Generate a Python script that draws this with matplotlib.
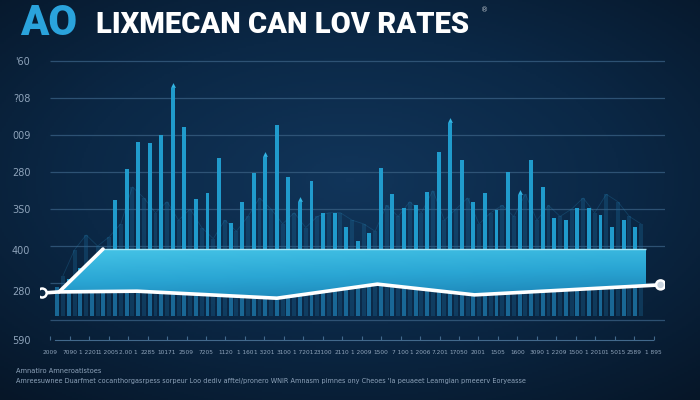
#! /usr/bin/env python
"""
Dark dashboard style rate chart: tall cyan bars, a flat band and a white trend line
"""

import numpy as np
import matplotlib.pyplot as plt
from matplotlib.colors import LinearSegmentedColormap
from matplotlib.patches import Polygon

# ---- data -------------------------------------------------------------
title_accent = 'AO'
title_main = 'LIXMECAN CAN LOV RATES'
footer_head = 'Amnatiro Amneroatistoes'
footer_body = ('Amreesuwnee Duarfmet cocanthorgasrpess sorpeur Loo dediv '
               'afftel/pronero WNIR Amnasm pimnes ony Cheoes \'Ia peuaeet '
               'Leamgian pmeeerv Eoryeasse')

# front bars, one per period (0..50)
main_v = [0.9, 1.1, 1.4, 1.2, 1.6,
          3.24, 4.08, 4.81, 4.78, 5.00, 6.27, 5.22, 3.27, 3.43, 4.38,
          2.62, 3.19, 3.97, 4.41, 5.27, 3.86, 3.19, 3.76, 2.89, 2.89,
          2.51, 2.14, 2.35, 4.11, 3.41, 3.03, 3.11, 3.46, 4.54, 5.32,
          4.32, 3.19, 3.43, 2.97, 4.00, 3.38, 4.32, 3.59, 2.76, 2.70,
          3.03, 3.03, 2.84, 2.51, 2.70, 2.51]
# faint bars behind them
back_v = [1.2, 1.9, 2.3, 2.0, 2.25, 2.6, 3.6, 3.3, 2.9, 3.2,
          2.7, 3.0, 2.5, 2.2, 2.7, 2.4, 2.8, 3.3, 3.0, 2.6,
          2.9, 2.5, 2.8, 2.9, 2.9, 2.7, 2.6, 2.4, 3.1, 2.8,
          3.2, 2.9, 3.5, 2.7, 3.0, 3.3, 2.6, 2.9, 3.1, 2.8,
          3.4, 2.7, 3.1, 2.8, 3.0, 3.3, 2.9, 3.4, 3.2, 2.8, 2.6]
arrow_periods = [10, 18, 21, 34, 40]

# white trend line
line_x = [-1.3, 0.16, 6.9, 19.0, 27.7, 36.1, 52.2]
line_v = [0.73, 0.76, 0.78, 0.59, 0.97, 0.68, 0.95]

# flat band
band_start, band_end = 3.96, 50.94
band_top = 1.92

ytick_v = [7, 6, 5, 4, 3, 1.9, 0.78, -0.54]
ytick_labels = ["'60", '?08', '009', '280', '3S0', '400', '280', '590']

xtick_labels = ['2009', '7090', '1 2201', '1 2005', '2.00 1', '2285', '10171',
                '2509', '7205', '1120', '1 160', '1 3201', '3100', '1 7201',
                '23100', '2110', '1 2009', '1500', '7 100', '1 2006', '7.201',
                '17050', '2001', '1505', '1600', '3090', '1 2209', '1500',
                '1 2010', '1 5015', '2589', '1 895']

# ---- figure -----------------------------------------------------------
fig = plt.figure(figsize=(7, 4), dpi=100)

# background radial gradient
bg = fig.add_axes([0, 0, 1, 1], zorder=-10)
yy, xx = np.mgrid[0:1:200j, 0:1:350j]
r = np.sqrt(((xx - 0.5) / 0.8) ** 2 + ((yy - 0.45) / 0.75) ** 2)
bg_cmap = LinearSegmentedColormap.from_list('bg', ['#11355a', '#0b2846', '#061628'])
bg.imshow(np.clip(r, 0, 1), cmap=bg_cmap, aspect='auto', extent=[0, 1, 0, 1],
          origin='upper')
bg.set_axis_off()

ax = fig.add_axes([40 / 700, 60 / 400, 625 / 700, 290 / 400])
ax.set_facecolor('none')
ax.set_xlim(-1.49, 52.58)
ax.set_ylim(-0.54, 7.3)

# grid lines
for v in range(0, 8):
    ax.hlines(v, -0.62, 52.6, color='#375d80', lw=0.9, alpha=0.8, zorder=1)

periods = np.arange(len(main_v))
main_arr = np.array(main_v)

# faint back bars and a thin line over their tops
ax.bar(periods + 0.5, np.array(back_v) - 0.1, bottom=0.1, width=0.34,
       color='#1b6594', alpha=0.35, zorder=2)
ax.plot(periods + 0.5, back_v, color='#2a8cc0', lw=0.6, alpha=0.25, zorder=2)

# front bars: muted lower part, bright upper part
split = 1.0
ax.bar(periods, np.minimum(main_arr, split) - 0.1, bottom=0.1, width=0.34,
       color='#1b6f9f', alpha=0.9, zorder=3)
ax.bar(periods, np.clip(main_arr - split, 0, None), bottom=split, width=0.34,
       color='#22a2d4', alpha=0.95, zorder=3)
ax.scatter(periods[arrow_periods], main_arr[arrow_periods] + 0.08,
           marker='^', s=12, color='#33b4e2', zorder=3, linewidths=0)

# band with slanted left edge, bottom following the white line
band_bottom = np.interp(band_end, line_x, line_v)
inner = [(x, v) for x, v in zip(line_x, line_v) if line_x[1] < x < band_end]
verts = ([(line_x[1], line_v[1]), (band_start, band_top), (band_end, band_top),
          (band_end, band_bottom)] + inner[::-1])
poly = Polygon(verts, closed=True, facecolor='none', edgecolor='none')
ax.add_patch(poly)
band_cmap = LinearSegmentedColormap.from_list('band', ['#1a7fb2', '#2aa6d4', '#44c3e6'])
grad = np.linspace(0, 1, 100).reshape(-1, 1) * np.ones((1, 10))
grad = grad * 0.8 + np.linspace(0.2, 0, 10).reshape(1, -1)
im = ax.imshow(grad, cmap=band_cmap, origin='lower', aspect='auto',
               extent=[line_x[1], band_end, 0.55, band_top], zorder=4,
               vmin=0, vmax=1)
im.set_clip_path(poly)
ax.hlines(band_top, band_start, band_end, color='#a8e6f7', lw=1.0, zorder=5)

# white trend line
ax.plot([line_x[1], band_start], [line_v[1], band_top], color='white', lw=2.6,
        solid_capstyle='round', zorder=6)
ax.plot(line_x, line_v, color='white', lw=2.6, solid_joinstyle='round', zorder=6)
ax.scatter([line_x[0], line_x[-1]], [line_v[0], line_v[-1]], s=42,
           facecolor=['#0d2a45', '#c9d4df'], edgecolor='white', linewidths=1.8,
           zorder=7)

# axes styling
for side in ['top', 'right', 'left']:
    ax.spines[side].set_visible(False)
ax.spines['bottom'].set_color('#42698c')
ax.spines['bottom'].set_linewidth(0.8)
ax.spines['bottom'].set_bounds(-0.2, 51.5)

ax.set_yticks(ytick_v, ytick_labels)
ax.tick_params(axis='y', length=0, pad=7, labelsize=7, labelcolor='#8ea3ba')
xpos = np.linspace(-0.6, 51.6, len(xtick_labels))
ax.set_xticks(xpos, xtick_labels)
ax.tick_params(axis='x', direction='in', length=3, color='#42698c',
               pad=7, labelsize=4.2, labelcolor='#8ea3ba')

# title
fig.text(20 / 700, 1 - 35 / 400, title_accent, color='#2aa3dc', fontsize=30,
         fontweight='black', family='Roboto', va='baseline')
fig.text(96 / 700, 1 - 33 / 400, title_main, color='white', fontsize=21,
         fontweight='black', family='Roboto', va='baseline')
fig.text(481 / 700, 1 - 10 / 400, '\u00ae', color='#c0c8d0', fontsize=5,
         va='center')

# footer
fig.text(16 / 700, 1 - 371 / 400, footer_head, color='#8ea3ba', fontsize=4.8,
         va='center')
fig.text(16 / 700, 1 - 381 / 400, footer_body, color='#8ea3ba', fontsize=4.7,
         va='center')

fig.savefig('out.png', dpi=100)
